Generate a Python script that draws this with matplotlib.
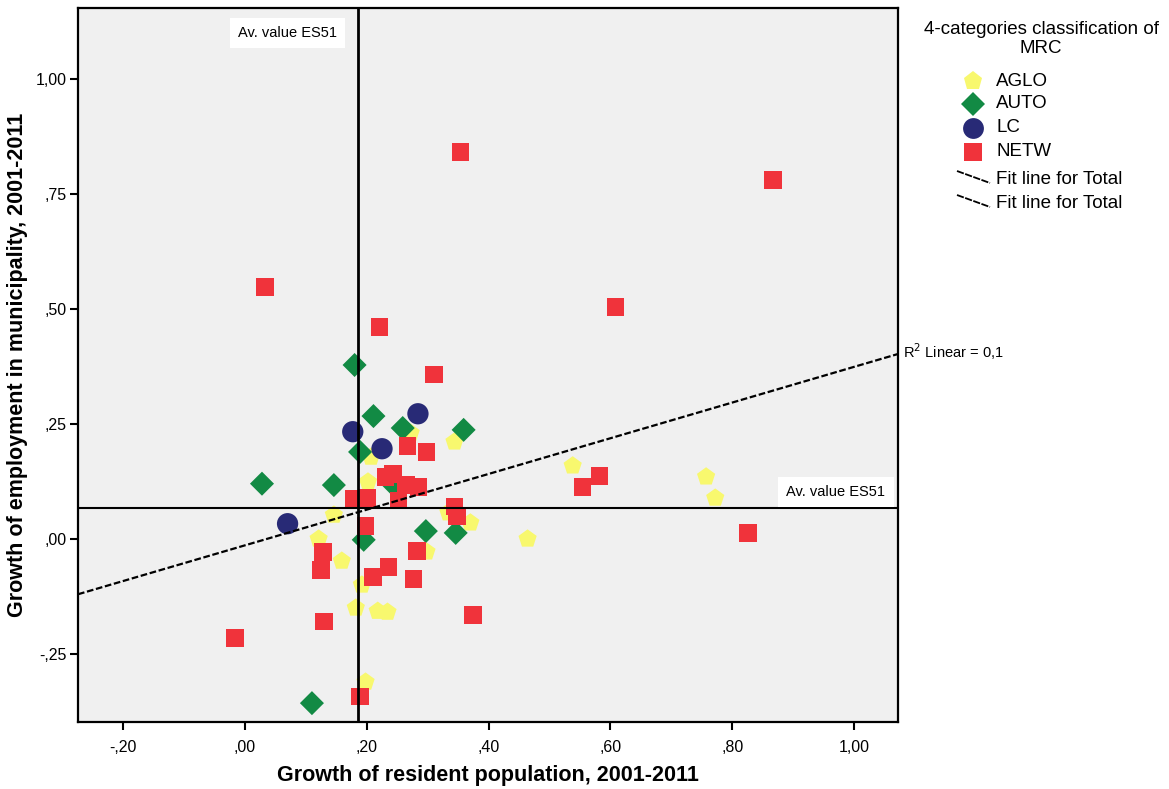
import matplotlib
matplotlib.use("Agg")
import matplotlib.pyplot as plt
from matplotlib.lines import Line2D
from matplotlib.ticker import FuncFormatter
import numpy as np

plt.rcParams['font.family'] = ['Liberation Sans', 'DejaVu Sans']

# ---- data ----
aglo_x = [0.146, 0.121, 0.159, 0.192, 0.182, 0.218, 0.234, 0.198, 0.202, 0.207,
          0.272, 0.344, 0.298, 0.334, 0.370, 0.464, 0.538, 0.757, 0.772]
aglo_y = [0.052, 0.000, -0.048, -0.100, -0.150, -0.157, -0.159, -0.311, 0.124, 0.178,
          0.230, 0.211, -0.028, 0.057, 0.035, 0.000, 0.159, 0.135, 0.089]

auto_x = [0.180, 0.211, 0.259, 0.359, 0.189, 0.028, 0.146, 0.244, 0.195, 0.297, 0.346, 0.110]
auto_y = [0.378, 0.267, 0.241, 0.237, 0.189, 0.120, 0.117, 0.117, -0.002, 0.017, 0.013, -0.357]

lc_x = [0.284, 0.177, 0.225, 0.070]
lc_y = [0.272, 0.233, 0.196, 0.033]

netw_x = [0.354, 0.867, 0.033, 0.608, 0.221, 0.310, 0.267, 0.298, 0.231, 0.243,
          0.264, 0.285, 0.252, 0.179, 0.200, 0.344, 0.348, 0.198, 0.282, 0.236,
          0.210, 0.277, 0.128, 0.125, 0.130, 0.374, 0.189, -0.016, 0.582, 0.554, 0.826]
netw_y = [0.841, 0.780, 0.548, 0.504, 0.461, 0.357, 0.202, 0.189, 0.135, 0.141,
          0.117, 0.113, 0.083, 0.087, 0.089, 0.070, 0.050, 0.028, -0.026, -0.061,
          -0.083, -0.087, -0.028, -0.067, -0.180, -0.165, -0.343, -0.215, 0.137, 0.113, 0.013]

mean_x = 0.185
mean_y = 0.067
fit_intercept = -0.014
fit_slope = 0.388
r2_label = "R$^2$ Linear = 0,1"

x_ticks = [-0.2, 0.0, 0.2, 0.4, 0.6, 0.8, 1.0]
y_ticks = [-0.25, 0.0, 0.25, 0.5, 0.75, 1.0]

c_aglo = '#f8f86e'
c_auto = '#128a44'
c_lc = '#282a76'
c_netw = '#f0333b'

# ---- figure ----
W, H = 1169, 789
fig = plt.figure(figsize=(W / 100, H / 100), dpi=100)
ax = fig.add_axes([78 / W, (H - 722) / H, (898 - 78) / W, (722 - 8) / H])
ax.set_facecolor('#f0f0f0')
xlim = (-0.274, 1.072)
ylim = (-0.398, 1.154)
ax.set_xlim(*xlim)
ax.set_ylim(*ylim)

def fmt(v, pos=None):
    s = f"{abs(v):.2f}".replace('.', ',')
    if s.startswith('0'):
        s = s[1:]
    return ('-' if v < -1e-9 else '') + s

ax.set_xticks(x_ticks)
ax.set_yticks(y_ticks)
ax.xaxis.set_major_formatter(FuncFormatter(fmt))
ax.yaxis.set_major_formatter(FuncFormatter(fmt))
ax.tick_params(direction='out', length=6, width=1.5, labelsize=11.5)
ax.tick_params(axis='x', pad=7)
ax.tick_params(axis='y', pad=2)
for s in ax.spines.values():
    s.set_linewidth(1.6)

ax.set_xlabel('Growth of resident population, 2001-2011', fontsize=15.5,
              fontweight='bold', va='center')
ax.xaxis.set_label_coords(0.5, (722 - 776) / 714)
ax.set_ylabel('Growth of employment in municipality, 2001-2011', fontsize=15.5,
              fontweight='bold', va='center')
ax.yaxis.set_label_coords((18 - 78) / 820, 0.5)

# points
ax.scatter(aglo_x, aglo_y, marker='p', s=190, c=c_aglo, edgecolors='none', zorder=3)
ax.scatter(auto_x, auto_y, marker='D', s=150, c=c_auto, edgecolors='none', zorder=3)
ax.scatter(lc_x, lc_y, marker='o', s=235, c=c_lc, edgecolors='none', zorder=3)
ax.scatter(netw_x, netw_y, marker='s', s=160, c=c_netw, edgecolors='none', zorder=3)

# reference lines
ax.axvline(mean_x, color='black', lw=2, zorder=4)
ax.axhline(mean_y, color='black', lw=1.5, zorder=4)

# fit line
fx = np.array(xlim)
ax.plot(fx, fit_intercept + fit_slope * fx, color='black', lw=1.6,
        dashes=(3, 1.2), zorder=4)

# labels
bbox = dict(facecolor='white', edgecolor='none', pad=6)
ax.text(0.070, 1.100, 'Av. value ES51', fontsize=10.5, ha='center', va='center',
        bbox=bbox, zorder=5)
ax.text(0.970, mean_y + 0.035, 'Av. value ES51', fontsize=10.5, ha='center',
        va='center', bbox=bbox, zorder=5)
ax.text(xlim[1] + 0.008, fit_intercept + fit_slope * xlim[1] + 0.005, r2_label,
        fontsize=10.5, ha='left', va='center', clip_on=False)

# legend (manual, figure pixel coords)
def fy(py):
    return 1 - py / H

fig.text(1041 / W, fy(39), '4-categories classification of\nMRC', ha='center',
         va='center', fontsize=13.5, linespacing=1.15)
items = [('AGLO', 'p', c_aglo, 14, 81), ('AUTO', 'D', c_auto, 12, 104),
         ('LC', 'o', c_lc, 15, 128), ('NETW', 's', c_netw, 13, 152)]
for name, m, c, ms, py in items:
    fig.add_artist(Line2D([973 / W], [fy(py)], marker=m, markersize=ms, color=c,
                          markeredgewidth=0, linestyle='none'))
    fig.text(996 / W, fy(py), name, ha='left', va='center', fontsize=13.5)
for py in (180, 204):
    fig.add_artist(Line2D([957 / W, 990 / W], [fy(py - 9), fy(py + 3)],
                          color='black', lw=1.3, dashes=(4, 0.8)))
    fig.text(996 / W, fy(py), 'Fit line for Total', ha='left', va='center',
             fontsize=13.5)

fig.savefig('out.png', dpi=100)
